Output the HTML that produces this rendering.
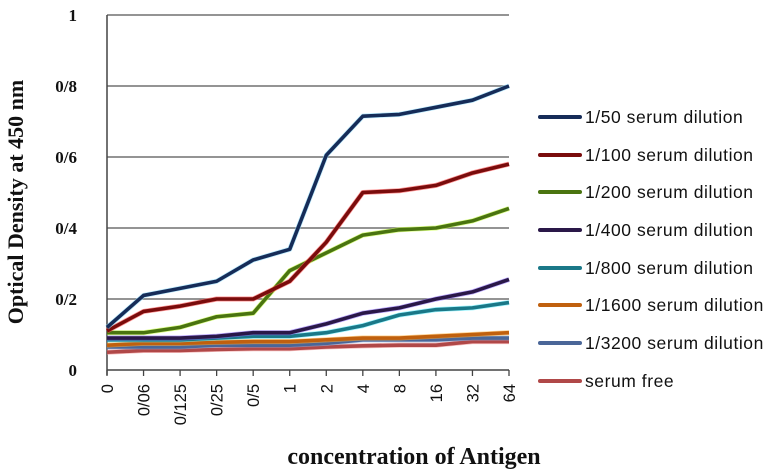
<!DOCTYPE html>
<html><head><meta charset="utf-8"><style>body{margin:0;background:#fff}svg{display:block}</style></head>
<body>
<svg id="chart" width="779" height="476" xmlns="http://www.w3.org/2000/svg"></svg>
<script>
const categories = ["0","0/06","0/125","0/25","0/5","1","2","4","8","16","32","64"];
const yTickLabels = ["0","0/2","0/4","0/6","0/8","1"];
const yTickValues = [0,0.2,0.4,0.6,0.8,1];
const seriesNames = ["1/50 serum dilution","1/100 serum dilution","1/200 serum dilution","1/400 serum dilution","1/800 serum dilution","1/1600 serum dilution","1/3200 serum dilution","serum free"];
const s50 = [0.12,0.21,0.23,0.25,0.31,0.34,0.605,0.715,0.72,0.74,0.76,0.80];
const s100 = [0.11,0.165,0.18,0.20,0.20,0.25,0.36,0.50,0.505,0.52,0.555,0.58];
const s200 = [0.105,0.105,0.12,0.15,0.16,0.28,0.33,0.38,0.395,0.40,0.42,0.455];
const s400 = [0.09,0.09,0.09,0.095,0.105,0.105,0.13,0.16,0.175,0.20,0.22,0.255];
const s800 = [0.085,0.085,0.085,0.09,0.095,0.095,0.105,0.125,0.155,0.17,0.175,0.19];
const s1600 = [0.07,0.075,0.075,0.078,0.08,0.08,0.085,0.09,0.09,0.095,0.10,0.105];
const s3200 = [0.065,0.065,0.065,0.07,0.07,0.07,0.075,0.085,0.085,0.085,0.09,0.09];
const sFree = [0.05,0.055,0.055,0.058,0.06,0.06,0.065,0.068,0.07,0.07,0.08,0.08];
const allSeries = [s50,s100,s200,s400,s800,s1600,s3200,sFree];
const colors = ["#162c58","#7a0c0c","#4a7410","#2a1848","#1a7888","#c0600e","#4a6698","#b04848"];
const halos = ["#8fe0ff","#ff5050","#c8ff40","#9070ff","#60f0ff","#ffb040","#90b0e0","#f09090"];

const NS="http://www.w3.org/2000/svg";
const svg=document.getElementById('chart');
const X0=107,X1=509,Y0=370,Y1=15;
function xPos(i){return X0+(X1-X0)*i/(categories.length-1);}
function yPos(v){return Y0-(Y0-Y1)*v;}
function mk(tag,attrs,parent){const e=document.createElementNS(NS,tag);for(const k in attrs)e.setAttribute(k,attrs[k]);(parent||svg).appendChild(e);return e;}

yTickValues.forEach((v,i)=>{
  if(v>0){const g=mk('line',{x1:X0,x2:X1,y1:yPos(v),y2:yPos(v),stroke:'#555','stroke-width':1.3});
  
  }
  const t=mk('text',{x:77,y:yPos(v)+6,'text-anchor':'end','font-family':'Liberation Serif, serif','font-weight':'bold','font-size':17,fill:'#111'});
  t.textContent=yTickLabels[i];
  
  
});
const ya=mk('line',{x1:X0,x2:X0,y1:Y1,y2:Y0+5,stroke:'#444','stroke-width':1.5});


const xa=mk('line',{x1:X0,x2:X1,y1:Y0,y2:Y0,stroke:'#444','stroke-width':1.5});


categories.forEach((c,i)=>{
  const tk=mk('line',{x1:xPos(i),x2:xPos(i),y1:Y0,y2:Y0+6,stroke:'#444','stroke-width':1.3});
  
  
  const t=mk('text',{x:0,y:0,'text-anchor':'end','font-family':'Liberation Sans, sans-serif','font-size':16.5,fill:'#111',transform:`translate(${xPos(i)+6},${Y0+14}) rotate(-90)`});
  t.textContent=c;
  
  
});
for(let s=allSeries.length-1;s>=0;s--){
  const pts=allSeries[s].map((v,i)=>xPos(i)+','+yPos(v)).join(' ');
  const h=mk('polyline',{points:pts,fill:'none',stroke:halos[s],'stroke-width':5,'stroke-linejoin':'round','stroke-opacity':0.6});
  
  
  const p=mk('polyline',{points:pts,fill:'none',stroke:colors[s],'stroke-width':3.6,'stroke-linejoin':'round'});
  
  
}
const legY=[117,155,192,230,268,305,343,381];
seriesNames.forEach((n,i)=>{
  const g=mk('g',{});
  
  
  mk('line',{x1:540,x2:580,y1:legY[i],y2:legY[i],stroke:colors[i],'stroke-width':4,'stroke-linecap':'round'},g);
  const t=mk('text',{x:585,y:legY[i]+6,'font-family':'Liberation Sans, sans-serif','font-size':17.5,'letter-spacing':0.55,fill:'#111'},g);
  t.textContent=n;
});
const yt=mk('text',{x:0,y:0,'text-anchor':'middle','font-family':'Liberation Serif, serif','font-weight':'bold','font-size':22,fill:'#111',transform:'translate(23,202) rotate(-90)'});
yt.textContent='Optical Density at 450 nm';


const xt=mk('text',{x:414,y:464,'text-anchor':'middle','font-family':'Liberation Serif, serif','font-weight':'bold','font-size':24,fill:'#111'});
xt.textContent='concentration of Antigen';


</script>
</body></html>
